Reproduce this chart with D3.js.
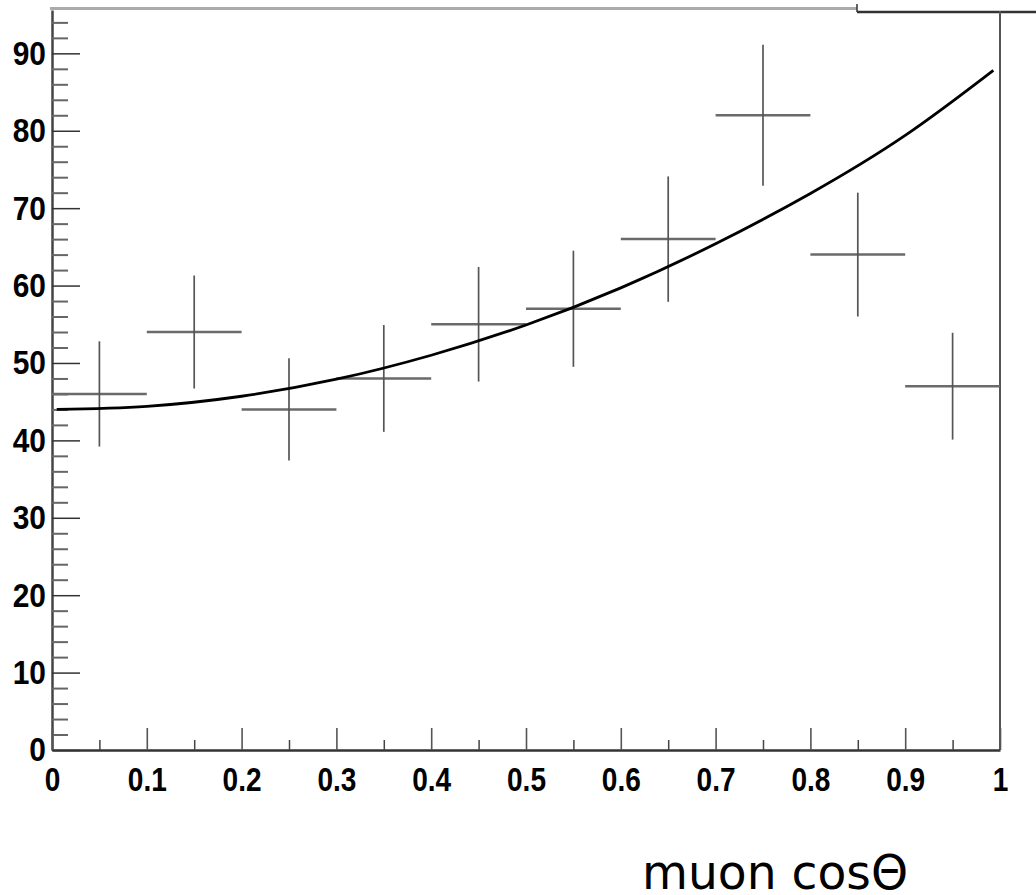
<!DOCTYPE html>
<html>
<head>
<meta charset="utf-8">
<script src="https://cdn.jsdelivr.net/npm/d3@7"></script>
<style>
  body { margin: 0; background: #fff; }
  svg { display: block; }
</style>
</head>
<body>
<div id="chart"></div>
<script>
// ------ DATA ------
// histogram bins (width 0.1), counts and errors
const bin_low    = [0, 0.1, 0.2, 0.3, 0.4, 0.5, 0.6, 0.7, 0.8, 0.9]
const bin_counts = [46, 54, 44, 48, 55, 57, 66, 82, 64, 47]
const bin_errors = [6.8, 7.3, 6.6, 6.9, 7.4, 7.5, 8.1, 9.1, 8.0, 6.9]
const bin_width  = 0.1

// fit curve
const fit_x = [0.005, 0.1, 0.2, 0.3, 0.4, 0.5, 0.6, 0.7, 0.8, 0.9, 0.993]
const fit_y = [44.0, 44.4, 45.7, 47.9, 51.0, 54.9, 59.7, 65.4, 71.9, 79.4, 87.8]

const x_ticks = [0, 0.1, 0.2, 0.3, 0.4, 0.5, 0.6, 0.7, 0.8, 0.9, 1]
const x_minor = [0.05, 0.15, 0.25, 0.35, 0.45, 0.55, 0.65, 0.75, 0.85, 0.95]
const y_ticks = [0, 10, 20, 30, 40, 50, 60, 70, 80, 90]
const y_minor = [2, 4, 6, 8, 12, 14, 16, 18, 22, 24, 26, 28, 32, 34, 36, 38, 42, 44, 46, 48,
                 52, 54, 56, 58, 62, 64, 66, 68, 72, 74, 76, 78, 82, 84, 86, 88, 92, 94]
const x_title = "muon cos\u0398"

// ------ LAYOUT ------
const width = 1036, height = 895
const svg = d3.select("#chart").append("svg")
  .attr("width", width).attr("height", height)

const x = d3.scaleLinear().domain([0, 1]).range([52, 1000])
const y = d3.scaleLinear().domain([0, 95.6]).range([750, 10])

// squeeze labels horizontally like the original
function squeeze(sel, sx) {
  sel.each(function() {
    const t = d3.select(this)
    const tx = +t.attr("x") || 0
    t.attr("x", 0).attr("transform", "translate(" + tx + ",0) scale(" + sx + ",1)")
  })
}

// ------ FRAME ------
svg.append("line").attr("x1", 50).attr("x2", 857).attr("y1", 8.5).attr("y2", 8.5)
  .attr("stroke", "#aaa").attr("stroke-width", 3)
svg.append("line").attr("x1", 857).attr("x2", 1036).attr("y1", 12).attr("y2", 12)
  .attr("stroke", "#333").attr("stroke-width", 2.5)
svg.append("line").attr("x1", 857).attr("x2", 857).attr("y1", 4).attr("y2", 12)
  .attr("stroke", "#333").attr("stroke-width", 1.5)
svg.append("line").attr("x1", x(1)).attr("x2", x(1)).attr("y1", 11).attr("y2", y(0))
  .attr("stroke", "#555").attr("stroke-width", 2)

// ------ Y AXIS ------
const y_axis = svg.append("g").attr("transform", "translate(" + x(0) + ",0)")
  .call(d3.axisLeft(y).tickValues(y_ticks).tickSize(-28).tickSizeOuter(0).tickPadding(6))
y_axis.select(".domain").attr("stroke", "#444").attr("stroke-width", 2.5)
y_axis.selectAll(".tick line").attr("stroke", "#333").attr("stroke-width", 1.5)
y_axis.selectAll(".tick text")
  .style("font-family", "'Liberation Sans', Arial, sans-serif")
  .style("font-weight", "bold").style("font-size", "34px").attr("fill", "#000")
  .call(squeeze, 0.88)

const y_minor_axis = svg.append("g").attr("transform", "translate(" + x(0) + ",0)")
  .call(d3.axisLeft(y).tickValues(y_minor).tickSize(-16).tickSizeOuter(0).tickFormat(""))
y_minor_axis.select(".domain").remove()
y_minor_axis.selectAll(".tick line").attr("stroke", "#666").attr("stroke-width", 2)

// ------ X AXIS ------
const x_axis = svg.append("g").attr("transform", "translate(0," + y(0) + ")")
  .call(d3.axisBottom(x).tickValues(x_ticks).tickSize(-22).tickSizeOuter(0).tickPadding(18)
    .tickFormat(d3.format("")))
x_axis.select(".domain").attr("stroke", "#333").attr("stroke-width", 2.5)
x_axis.selectAll(".tick line").attr("stroke", "#555").attr("stroke-width", 1.6)
x_axis.selectAll(".tick text")
  .style("font-family", "'Liberation Sans', Arial, sans-serif")
  .style("font-weight", "bold").style("font-size", "33px").attr("fill", "#000")
  .call(squeeze, 0.85)

const x_minor_axis = svg.append("g").attr("transform", "translate(0," + y(0) + ")")
  .call(d3.axisBottom(x).tickValues(x_minor).tickSize(-10).tickSizeOuter(0).tickFormat(""))
x_minor_axis.select(".domain").remove()
x_minor_axis.selectAll(".tick line").attr("stroke", "#444").attr("stroke-width", 1.5)

// ------ HISTOGRAM POINTS ------
const bins = bin_low.map(function(lo, i) {
  return {lo: lo, hi: lo + bin_width, mid: lo + bin_width / 2, n: bin_counts[i], e: bin_errors[i]}
})

const marks = svg.append("g")
marks.selectAll("line.hbar").data(bins).join("line").attr("class", "hbar")
  .attr("x1", function(d) { return x(d.lo) }).attr("x2", function(d) { return x(d.hi) })
  .attr("y1", function(d) { return y(d.n) }).attr("y2", function(d) { return y(d.n) })
  .attr("stroke", "#6a6a6a").attr("stroke-width", 2.5)
marks.selectAll("line.vbar").data(bins).join("line").attr("class", "vbar")
  .attr("x1", function(d) { return x(d.mid) }).attr("x2", function(d) { return x(d.mid) })
  .attr("y1", function(d) { return y(d.n + d.e) }).attr("y2", function(d) { return y(d.n - d.e) })
  .attr("stroke", "#555").attr("stroke-width", 1.7)

// ------ FIT ------
const fit = fit_x.map(function(v, i) { return [v, fit_y[i]] })
svg.append("path").datum(fit)
  .attr("d", d3.line().x(function(d) { return x(d[0]) }).y(function(d) { return y(d[1]) })
    .curve(d3.curveNatural))
  .attr("fill", "none").attr("stroke", "#000").attr("stroke-width", 2.8)

// ------ TITLE ------
svg.append("text").attr("x", 642).attr("y", 889)
  .attr("textLength", 266).attr("lengthAdjust", "spacingAndGlyphs")
  .style("font-family", "'DejaVu Sans', Verdana, sans-serif").style("font-size", "48px")
  .attr("fill", "#000")
  .text(x_title)
</script>
</body>
</html>
